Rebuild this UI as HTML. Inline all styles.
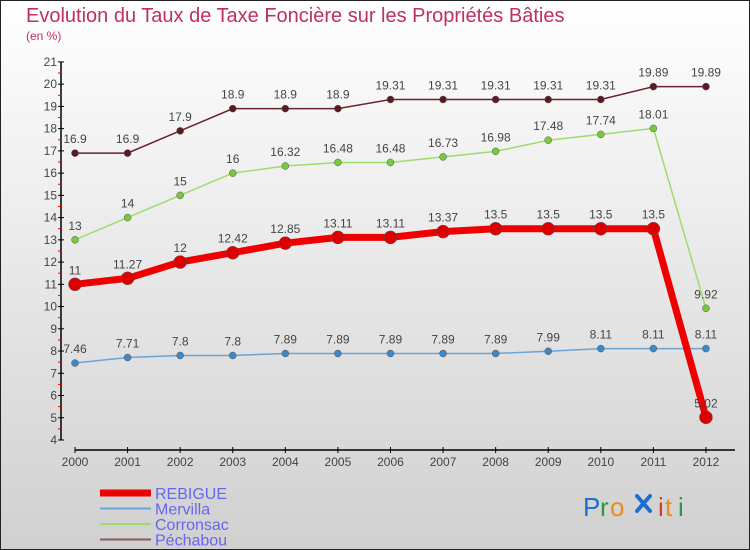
<!DOCTYPE html>
<html><head><meta charset="utf-8"><style>
body{margin:0;}
svg{display:block;font-family:"Liberation Sans",sans-serif;}
</style></head><body>
<svg id="c" width="750" height="550" viewBox="0 0 750 550">
<defs><linearGradient id="bg" x1="0" y1="0" x2="0" y2="1"><stop offset="0" stop-color="#ffffff"/><stop offset="1" stop-color="#d0d0d0"/></linearGradient></defs>
<rect x="0.5" y="0.5" width="749" height="549" fill="url(#bg)" stroke="#222"/>
<text x="26" y="22" font-size="20" fill="#c0305a">Evolution du Taux de Taxe Foncière sur les Propriétés Bâties</text>
<text x="26" y="40" font-size="12" fill="#c0305a">(en %)</text>
<g id="axes"></g>
<g id="series"></g>
<g id="legend"></g>
<g font-size="26">
<text x="583" y="516" fill="#1a6fd0">P</text><text x="600" y="516" fill="#2a9a3a">r</text><text x="610" y="516" fill="#f08a10">o</text>
<g stroke="#1a6fd0" stroke-width="4" stroke-linecap="round"><line x1="637" y1="496" x2="650" y2="511"/><line x1="650" y1="496" x2="637" y2="511"/></g>
<text x="658" y="516" fill="#e03a1a">i</text><text x="665" y="516" fill="#f08a10">t</text><text x="678" y="516" fill="#2a9a3a">i</text>
</g>
</svg>
<script>
const years=["2000","2001","2002","2003","2004","2005","2006","2007","2008","2009","2010","2011","2012"];
const rebigue=[11,11.27,12,12.42,12.85,13.11,13.11,13.37,13.5,13.5,13.5,13.5,5.02];
const mervilla=[7.46,7.71,7.8,7.8,7.89,7.89,7.89,7.89,7.89,7.99,8.11,8.11,8.11];
const corronsac=[13,14,15,16,16.32,16.48,16.48,16.73,16.98,17.48,17.74,18.01,9.92];
const pechabou=[16.9,16.9,17.9,18.9,18.9,18.9,19.31,19.31,19.31,19.31,19.31,19.89,19.89];
const yTicks=[4,5,6,7,8,9,10,11,12,13,14,15,16,17,18,19,20,21];
const NS="http://www.w3.org/2000/svg";
const X=i=>75+i*52.58, Y=v=>440-(v-4)*22.24;
function mk(p,t,a,txt){const e=document.createElementNS(NS,t);for(const k in a)e.setAttribute(k,a[k]);if(txt!==undefined)e.textContent=txt;p.appendChild(e);return e;}
const ax=document.getElementById('axes');
let e=mk(ax,'line',{x1:61,y1:Y(21),x2:61,y2:440,stroke:'#000','stroke-width':1.5});


e=mk(ax,'line',{x1:75,y1:450,x2:735,y2:450,stroke:'#000','stroke-width':1.5});


yTicks.forEach(v=>{
 mk(ax,'line',{x1:58,x2:64,y1:Y(v),y2:Y(v),stroke:'#000'});
 if(v<21)mk(ax,'line',{x1:58,x2:61,y1:Y(v+0.5),y2:Y(v+0.5),stroke:'#e00'});
 e=mk(ax,'text',{x:57,y:Y(v)+4,'text-anchor':'end','font-size':12,fill:'#444'},v);
 
 
});
years.forEach((y,i)=>{
 mk(ax,'line',{x1:X(i),x2:X(i),y1:447,y2:453,stroke:'#000'});
 e=mk(ax,'text',{x:X(i),y:466,'text-anchor':'middle','font-size':12,fill:'#444'},y);
 
 
});
const ser=[["pechabou",pechabou,"#6b2030","#5a1a22",1.5,3.5],["corronsac",corronsac,"#9edc6a","#78c840",1.5,3.5],["mervilla",mervilla,"#6aa4d4","#3d88c8",1.5,3.5],["rebigue",rebigue,"#ee0000","#dd0000",7,6.5]];
const sg=document.getElementById('series');
ser.forEach(([n,d,c,dc,w,r])=>{
 const g=mk(sg,'g',{});
 
 
 e=mk(g,'polyline',{points:d.map((v,i)=>X(i)+','+Y(v)).join(' '),fill:'none',stroke:c,'stroke-width':w});
 
 
 d.forEach((v,i)=>{
  e=mk(g,'circle',{cx:X(i),cy:Y(v),r:r,fill:dc,stroke:'#555','stroke-width':0.5});
  
  
  e=mk(g,'text',{x:X(i),y:Y(v)-10,'text-anchor':'middle','font-size':12,fill:'#444'},String(v));
  
  
 });
});
const lg=document.getElementById('legend');
[["REBIGUE","#ee0000",7],["Mervilla","#6aa4d4",2],["Corronsac","#9edc6a",2],["Péchabou","#8a5a5a",2]].forEach(([n,c,w],i)=>{
 const yy=493+i*15.5;
 const g=mk(lg,'g',{});
 
 
 mk(g,'line',{x1:100,x2:151,y1:yy,y2:yy,stroke:c,'stroke-width':w});
 mk(g,'text',{x:155,y:yy+6,'font-size':16,fill:'#6666ee'},n);
});
</script>
</body></html>
